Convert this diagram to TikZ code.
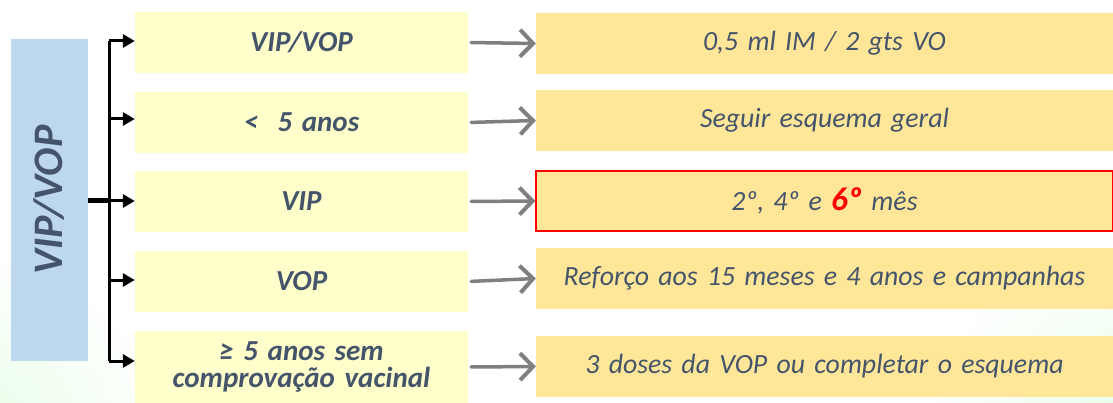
\documentclass[tikz,border=0pt]{standalone}
\usepackage{fontspec}
\setmainfont{Carlito}
\usetikzlibrary{arrows.meta}

\definecolor{txtslate}{HTML}{44546A}
\definecolor{vipblue}{HTML}{BDD7EE}
\definecolor{leftfill}{HTML}{FFFFCC}
\definecolor{rightfill}{HTML}{FFE699}
\definecolor{arrowgray}{HTML}{7F7F7F}

\begin{document}
\begin{tikzpicture}[x=1pt,y=-1pt,
        leftbox/.style={fill=leftfill, minimum width=333pt, text width=325pt, align=center,
                text=txtslate, font=\fontsize{29}{27}\selectfont\bfseries\itshape, inner sep=0pt},
        rightbox/.style={fill=rightfill, minimum width=577pt, text width=570pt, align=center,
                text=txtslate, font=\fontsize{27.8}{32}\selectfont\itshape, inner sep=0pt},
        branch/.style={line width=3pt, -{Triangle[length=12pt,width=13pt]}},
        grayarrow/.style={arrowgray, line width=3.5pt, line cap=round,
                -{Straight Barb[length=13pt,width=27pt,line width=4pt]}}]
        \useasboundingbox (0,0) rectangle (1113,403);
        % pale background
        \begin{scope}
        \clip (0,0) rectangle (1113,403);
        \shade[inner color=green!9, outer color=white] (-20,440) circle (190);
        \shade[inner color=green!9, outer color=white] (1130,440) circle (210);
        \end{scope}
        % main box
        \node (vip) at (49.5,200) [fill=vipblue, minimum width=77pt, minimum height=322pt, inner sep=0pt] {};
        \node at (vip.center) [rotate=90, text=txtslate, font=\fontsize{42}{42}\selectfont\bfseries\itshape] {VIP/VOP};
        % left column
        \node (l1) at (301.5,42.5) [leftbox, minimum height=61pt] {VIP/VOP};
        \node (l2) at (301.5,122.5) [leftbox, minimum height=61pt] {<\ \ 5 anos};
        \node (l3) at (301.5,201.5) [leftbox, minimum height=61pt] {VIP};
        \node (l4) at (301.5,281.5) [leftbox, minimum height=61pt] {VOP};
        \node (l5) at (301.5,367) [leftbox, minimum height=72pt] {≥ 5 anos sem\\comprovação vacinal};
        % right column
        \node (r1) at (824.5,43.5) [rightbox, minimum height=61pt] {0,5 ml IM / 2 gts VO};
        \node (r2) at (824.5,120.5) [rightbox, minimum height=61pt] {Seguir esquema geral};
        \node (r3) at (824.5,201) [rightbox, minimum height=60pt, draw=red, line width=1.5pt]
                {2º, 4º e {\color{red}\fontsize{33}{32}\selectfont\bfseries 6º} mês};
        \node (r4) at (824.5,278.5) [rightbox, minimum height=61pt] {Reforço aos 15 meses e 4 anos e campanhas};
        \node (r5) at (824.5,366.5) [rightbox, minimum height=61pt] {3 doses da VOP ou completar o esquema};
        % bracket
        \coordinate (b1) at (109,41);
        \coordinate (b2) at (109,119);
        \coordinate (b3) at (109,201);
        \coordinate (b4) at (109,280);
        \coordinate (b5) at (109,361);
        \draw [line width=5pt] (vip.east |- b3) -- (b3);
        \draw [line width=3pt] (b1) -- (b5);
        \foreach \b/\l in {b1/l1,b2/l2,b3/l3,b4/l4,b5/l5}
                \draw [branch] (\b) -- (\b -| \l.west);
        % gray arrows
        \foreach \l/\r in {l1/r1,l2/r2,l3/r3,l4/r4,l5/r5}
                \draw [grayarrow, shorten <=3pt] (\l.east) -- (\r.west);
\end{tikzpicture}
\end{document}
